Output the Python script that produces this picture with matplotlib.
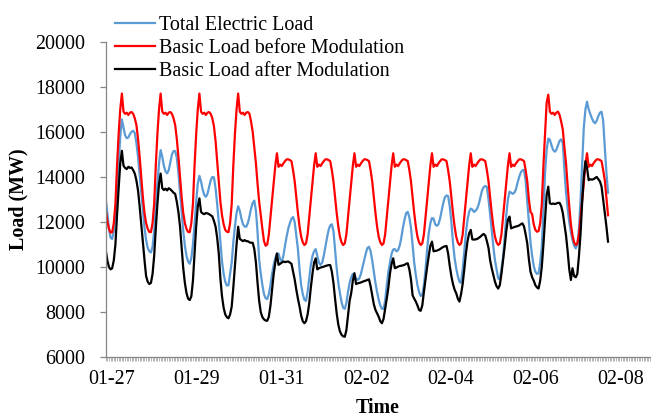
import numpy as np
import matplotlib
matplotlib.use('Agg')
import matplotlib.pyplot as plt

plt.rcParams['font.family'] = ['Liberation Serif', 'DejaVu Serif']
plt.rcParams['font.size'] = 14.4

# hourly values, one row per day (01-27 ... 02-08), MW
total_load = [
    13050, 12400, 11700, 11300, 11250, 11600, 12300, 13400, 14600, 15800, 16550, 16200, 15850, 15720, 15750, 15900, 16000, 16050, 15950, 15500, 14900, 14100, 13250, 12450,
    11750, 11200, 10850, 10700, 10650, 10900, 11600, 12600, 13700, 14600, 15190, 14900, 14500, 14250, 14160, 14300, 14650, 15000, 15150, 15150, 14850, 14200, 13300, 12450,
    11600, 10950, 10500, 10250, 10150, 10400, 11000, 11900, 12900, 13700, 14050, 13800, 13450, 13200, 13120, 13250, 13550, 13850, 14000, 13980, 13500, 12800, 12000, 11100,
    10250, 9700, 9350, 9180, 9200, 9700, 10200, 11100, 11800, 12400, 12700, 12500, 12150, 11900, 11800, 11790, 11950, 12250, 12600, 12850, 12950, 12500, 11550, 10350,
    9700, 9200, 8800, 8620, 8580, 8800, 9200, 9700, 10100, 10400, 10600, 10600, 10350, 10250, 10500, 10950, 11350, 11700, 11950, 12150, 12220, 12000, 11400, 10800,
    9900, 9200, 8800, 8550, 8500, 8900, 9500, 10100, 10500, 10700, 10800, 10500, 10200, 10100, 10200, 10500, 10900, 11300, 11650, 11850, 11900, 11600, 10800, 9950,
    9300, 8850, 8450, 8200, 8150, 8400, 8900, 9300, 9550, 9700, 9650, 9500, 9430, 9500, 9700, 10000, 10300, 10600, 10850, 10900, 10700, 10300, 9800, 9300,
    8900, 8550, 8300, 8150, 8150, 8500, 9200, 9800, 10200, 10600, 10780, 10800, 10700, 10750, 10950, 11300, 11750, 12100, 12400, 12450, 12200, 11750, 11000, 10200,
    9650, 9200, 8900, 8720, 8750, 9200, 9900, 10800, 11500, 11950, 12180, 12150, 11900, 11830, 11900, 12150, 12500, 12850, 13100, 13180, 13150, 12700, 12000, 11100,
    10400, 9950, 9600, 9350, 9300, 9900, 10700, 11500, 12100, 12450, 12600, 12550, 12450, 12500, 12600, 12800, 13100, 13400, 13550, 13600, 13550, 13000, 12350, 11600,
    10900, 10300, 9900, 9500, 9460, 9900, 10450, 11300, 12300, 13000, 13350, 13300, 13250, 13300, 13450, 13750, 14000, 14200, 14300, 14310, 13800, 12900, 12000, 11100,
    10500, 10050, 9800, 9700, 9720, 10200, 10900, 12500, 14160, 15200, 15700, 15650, 15400, 15200, 15120, 15200, 15400, 15600, 15670, 15500, 14300, 13300, 12600, 12000,
    11550, 11200, 10950, 10830, 11000, 11700, 13000, 14600, 16200, 17000, 17340, 17000, 16800, 16600, 16450, 16380, 16500, 16700, 16850, 16890, 16500, 15300, 14200, 13300,
]

basic_before = [
    12530, 12050, 11700, 11530, 11550, 11950, 12800, 14500, 15900, 17000, 17700, 16900, 16800, 16850, 16750, 16850, 16880, 16800, 16600, 16300, 15700, 14900, 14000, 13100,
    12400, 11950, 11700, 11560, 11550, 11950, 12800, 14500, 15900, 17000, 17700, 16900, 16800, 16850, 16750, 16850, 16880, 16800, 16600, 16300, 15700, 14900, 14000, 13100,
    12400, 11950, 11700, 11560, 11550, 11950, 12800, 14500, 15900, 17000, 17700, 16900, 16800, 16850, 16750, 16850, 16880, 16800, 16600, 16250, 15600, 14700, 13800, 12900,
    12300, 11900, 11650, 11570, 11550, 11950, 12800, 14500, 15900, 17000, 17700, 16900, 16800, 16850, 16750, 16850, 16880, 16800, 16450, 16000, 15300, 14600, 13700, 12900,
    12300, 11700, 11150, 10950, 11000, 11450, 12200, 12900, 13750, 14500, 15050, 14450, 14550, 14480, 14600, 14700, 14780, 14780, 14750, 14700, 14300, 13800, 13100, 12400,
    11800, 11350, 11100, 10980, 11050, 11450, 12200, 12900, 13750, 14500, 15050, 14450, 14550, 14480, 14600, 14700, 14780, 14780, 14750, 14700, 14300, 13800, 13100, 12400,
    11800, 11350, 11100, 10980, 11050, 11450, 12200, 12900, 13750, 14500, 15050, 14450, 14550, 14480, 14600, 14700, 14780, 14780, 14750, 14700, 14300, 13800, 13100, 12400,
    11800, 11350, 11100, 10980, 11050, 11450, 12200, 12900, 13750, 14500, 15050, 14450, 14550, 14480, 14600, 14700, 14780, 14780, 14750, 14700, 14300, 13800, 13100, 12400,
    11800, 11350, 11100, 10980, 11050, 11450, 12200, 12900, 13750, 14500, 15050, 14450, 14550, 14480, 14600, 14700, 14780, 14780, 14750, 14700, 14300, 13800, 13100, 12400,
    11800, 11350, 11100, 10980, 11050, 11450, 12200, 12900, 13750, 14500, 15050, 14450, 14550, 14480, 14600, 14700, 14780, 14780, 14750, 14700, 14300, 13800, 13100, 12400,
    11800, 11350, 11100, 10980, 11050, 11450, 12200, 12900, 13750, 14500, 15050, 14450, 14550, 14480, 14600, 14700, 14780, 14780, 14750, 14700, 14300, 13800, 13000, 12450,
    12350, 11900, 11650, 11570, 11600, 11950, 12800, 14500, 15900, 17300, 17650, 16900, 16800, 16850, 16750, 16850, 16900, 16750, 16450, 16100, 15300, 14600, 13600, 12700,
    11900, 11400, 11100, 10980, 11050, 11450, 12200, 12900, 13750, 14550, 15050, 14450, 14550, 14480, 14600, 14700, 14780, 14780, 14750, 14700, 14300, 13850, 13100, 12300,
]

basic_after = [
    10760, 10300, 10000, 9900, 9950, 10300, 11000, 12300, 13500, 14600, 15160, 14500, 14400, 14350, 14450, 14400, 14420, 14300, 14150, 13850, 13400, 12700, 11900, 11100,
    10320, 9600, 9350, 9250, 9300, 9700, 10500, 11700, 12800, 13700, 14150, 13500, 13420, 13480, 13400, 13500, 13450, 13380, 13300, 13250, 12900, 12450, 11800, 10900,
    9950, 9300, 8850, 8600, 8540, 8700, 9400, 10600, 11800, 12700, 13050, 12450, 12380, 12350, 12400, 12380, 12350, 12300, 12250, 12050, 11800, 11300, 10600, 9500,
    8700, 8200, 7900, 7780, 7730, 7900, 8250, 9100, 10020, 11000, 11790, 11250, 11200, 11150, 11200, 11150, 11150, 11100, 11080, 11080, 10800, 10200, 9300, 8500,
    8000, 7780, 7680, 7630, 7620, 7800, 8300, 9000, 9700, 10200, 10600, 10100, 10150, 10200, 10250, 10220, 10240, 10250, 10200, 10150, 9800, 9450, 9000, 8600,
    8250, 7850, 7600, 7510, 7600, 7900, 8400, 9100, 9700, 10200, 10390, 9900, 9950, 9980, 10000, 10020, 10050, 10070, 10090, 10090, 9800, 9300, 8600, 7950,
    7450, 7150, 7000, 6930, 6910, 7200, 7850, 8500, 8850, 9400, 9730, 9250, 9280, 9300, 9320, 9350, 9380, 9400, 9430, 9460, 9150, 8750, 8350, 8100,
    7950, 7800, 7600, 7510, 7700, 8150, 8600, 9100, 9730, 10150, 10390, 9950, 9980, 10020, 10050, 10060, 10080, 10100, 10150, 10170, 9900, 9450, 8750, 8600,
    8470, 8300, 8100, 8060, 8300, 8900, 9450, 10000, 10500, 10950, 11130, 10700, 10720, 10730, 10760, 10800, 10850, 10900, 10920, 10940, 10600, 10050, 9600, 9250,
    9000, 8840, 8600, 8470, 8800, 9250, 9900, 10600, 11150, 11500, 11650, 11230, 11220, 11230, 11250, 11300, 11350, 11420, 11470, 11400, 11150, 10850, 10300, 9950,
    9650, 9350, 9150, 9050, 9200, 9700, 10300, 10900, 11600, 12100, 12240, 11720, 11750, 11780, 11800, 11820, 11850, 11900, 11940, 11800, 11450, 11050, 10350, 9800,
    9550, 9400, 9200, 9100, 9050, 9400, 10020, 11000, 12100, 13200, 13570, 12830, 12800, 12820, 12800, 12820, 12850, 12850, 12700, 12400, 11900, 11400, 10700, 9900,
    9430, 9950, 9600, 9550, 9700, 10500, 11500, 12900, 14000, 14700, 14400, 13860, 13900, 13880, 13900, 13950, 14000, 13900, 13800, 13570, 13000, 12400, 11800, 11130,
]

date_labels = ['01-27', '01-29', '01-31', '02-02', '02-04', '02-06', '02-08']
label_hours = [3.75, 56.25, 108.75, 161.25, 213.75, 266.25, 318.75]

hours = np.arange(len(total_load))
axis_grey = '#868686'

fig = plt.figure(figsize=(6.51, 4.19), dpi=100)
ax = fig.add_axes([0.1624, 0.1473, 0.8361, 0.7532])

ax.plot(hours, total_load, color='#5B9BD5', lw=1.6, label='Total Electric Load')
ax.plot(hours, basic_before, color='#FF0000', lw=1.6, label='Basic Load before Modulation')
ax.plot(hours, basic_after, color='#000000', lw=1.6, label='Basic Load after Modulation')

ax.set_xlim(0, 337)
ax.set_ylim(6000, 20000)
ax.set_yticks(np.arange(6000, 20001, 2000))
ax.set_xticks(label_hours)
ax.set_xticklabels(date_labels)
ax.set_xticks(np.arange(0, 338, 1), minor=True)

for side in ['top', 'right']:
    ax.spines[side].set_visible(False)
for side in ['left', 'bottom']:
    ax.spines[side].set_color(axis_grey)
    ax.spines[side].set_linewidth(0.9)

ax.tick_params(axis='y', length=4, width=0.9, color=axis_grey, pad=10.5)
ax.tick_params(axis='x', which='major', length=0, pad=9)
ax.tick_params(axis='x', which='minor', length=3, width=0.5, color='#9a9a9a')

ax.set_ylabel('Load (MW)', fontweight='bold')
ax.yaxis.set_label_coords(-0.142, 0.5)
ax.set_xlabel('Time', fontweight='bold')
ax.xaxis.set_label_coords(0.5, -0.128)

fig.legend(loc='upper left', bbox_to_anchor=(115 / 651, 0.963), frameon=False,
           borderaxespad=0, borderpad=0, handlelength=2.0, handletextpad=0.2,
           labelspacing=0.2)

fig.savefig('out.png', dpi=100)
